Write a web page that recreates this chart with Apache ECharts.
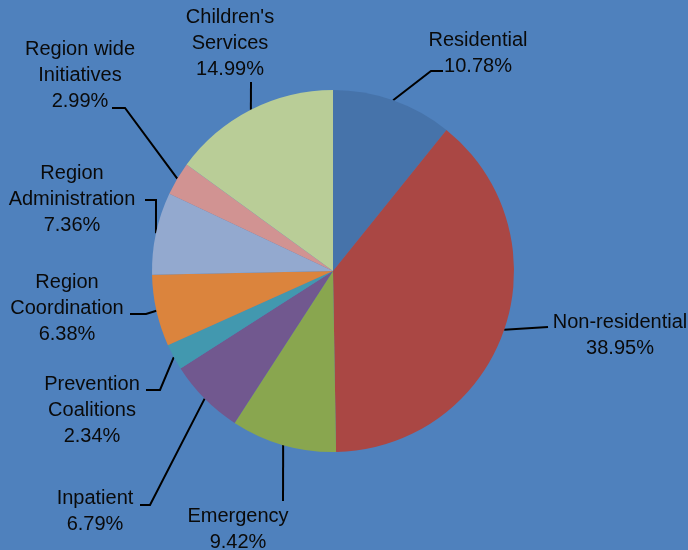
<!DOCTYPE html>
<html>
<head>
<meta charset="utf-8">
<script src="https://cdn.jsdelivr.net/npm/echarts@6/dist/echarts.min.js"></script>
<style>
html,body{margin:0;padding:0;background:#4F81BD;}
#main{width:688px;height:550px;}
</style>
</head>
<body>
<div id="main"></div>
<script>
// ---- data ----
var categories = ['Residential','Non-residential','Emergency','Inpatient','Prevention\nCoalitions','Region\nCoordination','Region\nAdministration','Region wide\nInitiatives',"Children's\nServices"];
var values = [10.78, 38.95, 9.42, 6.79, 2.34, 6.38, 7.36, 2.99, 14.99];

// ---- styling / layout (not data) ----
var colors = ['#4673AA','#AA4744','#89A64F','#71588F','#4298AF','#DB843D','#93A9CF','#D19392','#B9CD97'];
var CX = 333, CY = 271, R = 181;
// label block centre and leader bend/end points
var labelPos = [
  {x:478, y:53,  pts:[[431,71],[443,71]]},
  {x:620, y:335, pts:[[548,327]]},
  {x:238, y:529, pts:[[283,501]]},
  {x:95,  y:511, pts:[[150,505],[140,505]]},
  {x:92,  y:410, pts:[[160,390],[146,390]]},
  {x:67,  y:308, pts:[[146,314],[130,314]]},
  {x:72,  y:199, pts:[[156,200],[145,200]]},
  {x:80,  y:75,  pts:[[125,108],[112,108]]},
  {x:230, y:43,  pts:[[251,82]]}
];

var total = values.reduce(function(a,b){return a+b;},0);
function edgePoint(i){
  var before = 0;
  for (var k=0;k<i;k++) before += values[k];
  var mid = (before + values[i]/2) / total * Math.PI * 2;
  return [CX + R*Math.sin(mid), CY - R*Math.cos(mid)];
}

var chart = echarts.init(document.getElementById('main'));
chart.setOption({
  backgroundColor: '#4F81BD',
  animation: false,
  series: [{
    type: 'pie',
    center: [CX, CY],
    radius: R,
    startAngle: 90,
    clockwise: true,
    data: categories.map(function(c,i){
      return {name:c, value:values[i], itemStyle:{color:colors[i]}};
    }),
    itemStyle: {borderWidth:0},
    label: {
      show: true,
      position: 'outside',
      formatter: function(p){ return p.name + '\n' + values[p.dataIndex].toFixed(2) + '%'; },
      color: '#0a0a0a',
      fontFamily: 'Liberation Sans',
      fontSize: 20,
      lineHeight: 26,
      align: 'center',
      overflow: 'none',
      width: 220
    },
    labelLine: {show:true, smooth:false, lineStyle:{color:'#000', width:2}},
    labelLayout: function(p){
      var lp = labelPos[p.dataIndex];
      var pts = [edgePoint(p.dataIndex)].concat(lp.pts);
      return {
        x: lp.x, y: lp.y,
        align: 'center', verticalAlign: 'middle',
        hideOverlap: false, moveOverlap: null,
        labelLinePoints: pts
      };
    },
    emphasis: {disabled:true}
  }]
});
</script>
</body>
</html>
